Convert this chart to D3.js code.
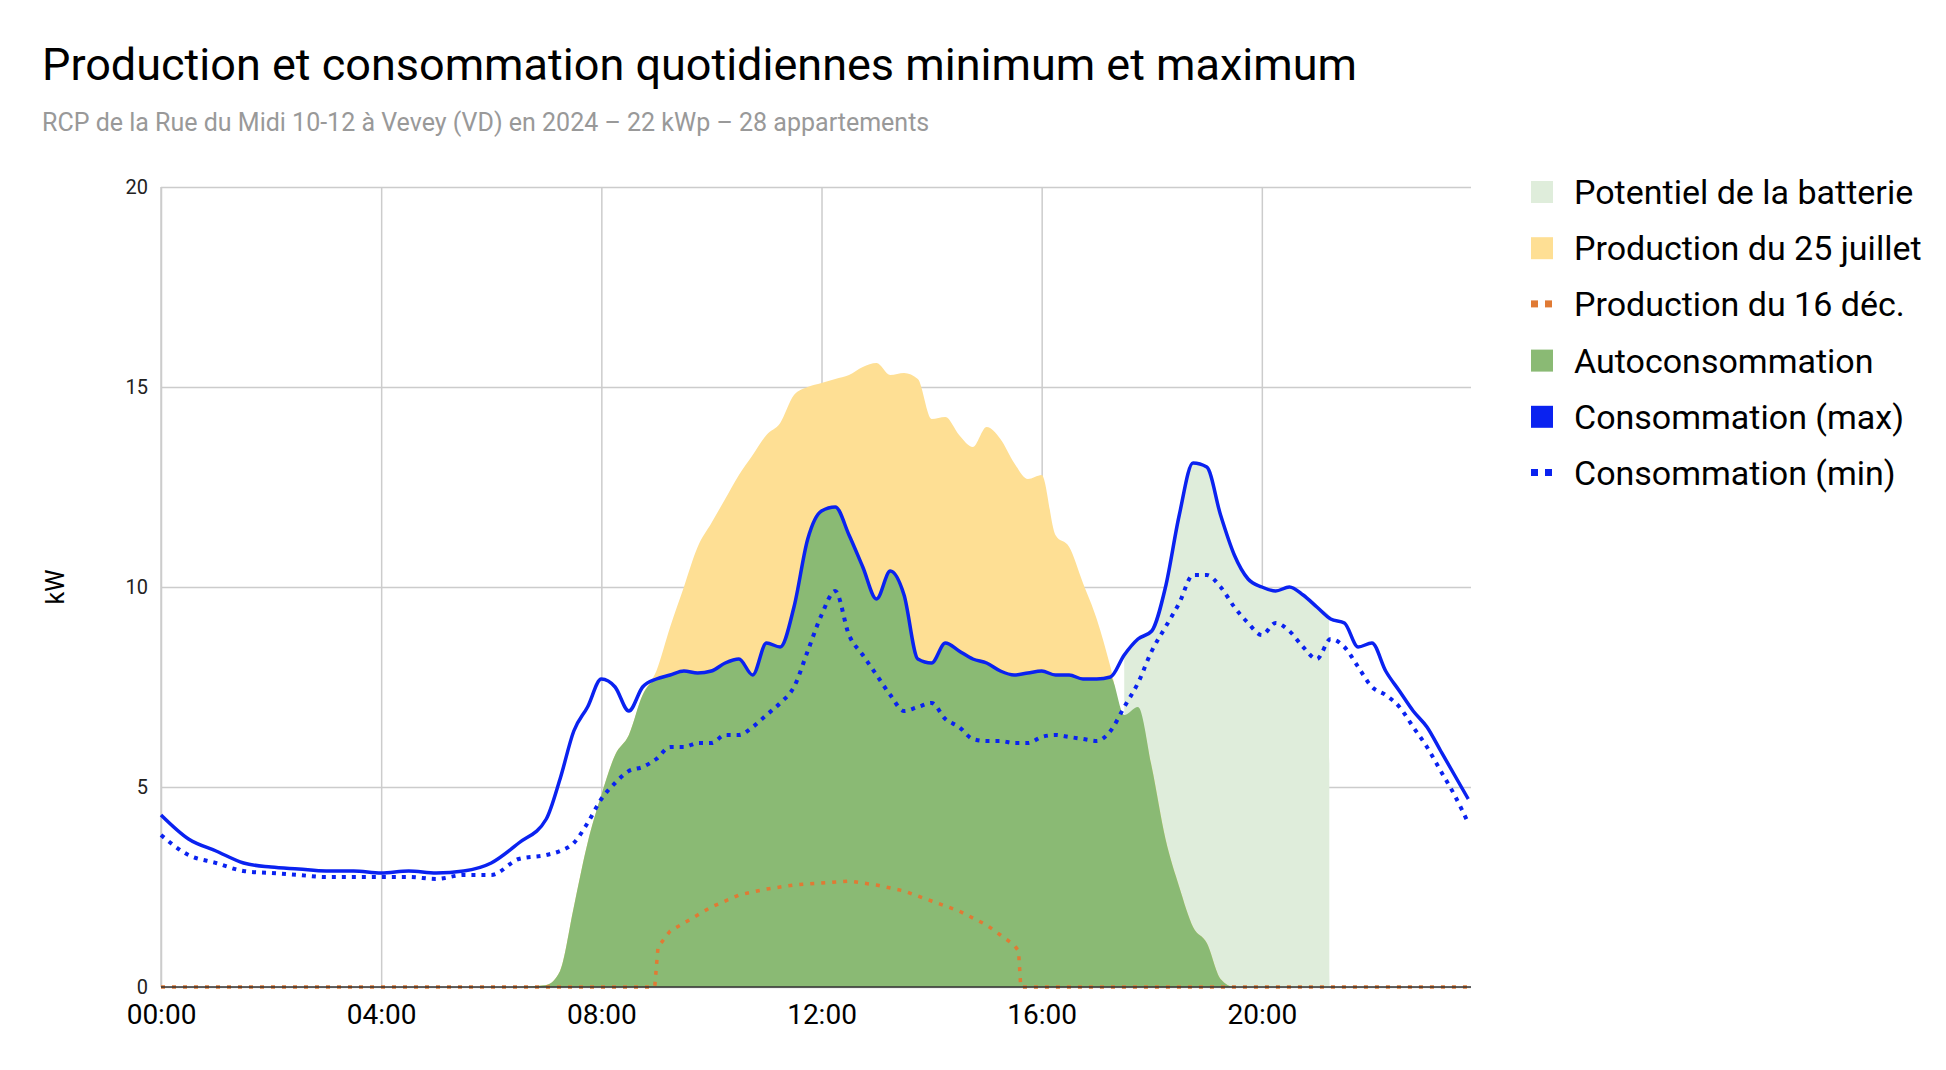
<!DOCTYPE html>
<html>
<head>
<meta charset="utf-8">
<script src="https://cdn.jsdelivr.net/npm/d3@7"></script>
<style>
  body { margin: 0; background: #fff; font-family: Roboto, "Noto Sans", sans-serif; }
</style>
</head>
<body>
<script>
// time grid: half hours until 6:30, then quarter hours
const hours = d3.range(0, 7, 0.5).concat(d3.range(7, 24, 0.25));

const consMax = [4.3,3.7,3.4,3.1,3.0,2.95,2.9,2.9,2.85,2.9,2.85,2.9,3.1,3.6,
  4.2,5.2,6.4,7.0, 7.7,7.5,6.9,7.5, 7.7,7.8,7.9,7.85, 7.9,8.1,8.2,7.8,
  8.6,8.5,9.5,11.2, 11.9,12.0,11.3,10.5, 9.7,10.4,9.8,8.2, 8.1,8.6,8.4,8.2,
  8.1,7.9,7.8,7.85, 7.9,7.8,7.8,7.7, 7.7,7.75,8.3,8.7, 8.9,10.0,11.8,13.1,
  13.0,11.8,10.8,10.2, 10.0,9.9,10.0,9.8, 9.5,9.2,9.1,8.5, 8.6,7.9,7.4,6.9,
  6.5,5.9,5.3,4.7];

const consMin = [3.8,3.3,3.1,2.9,2.85,2.8,2.75,2.75,2.75,2.75,2.7,2.8,2.8,3.2,
  3.3,3.4,3.6,4.1, 4.7,5.1,5.4,5.5, 5.7,6.0,6.0,6.1, 6.1,6.3,6.3,6.5,
  6.8,7.1,7.5,8.4, 9.3,9.9,8.8,8.3, 7.8,7.3,6.9,7.0, 7.1,6.7,6.5,6.2,
  6.15,6.15,6.1,6.1, 6.25,6.3,6.25,6.2, 6.15,6.4,7.0,7.6, 8.4,9.0,9.6,10.3,
  10.3,10.0,9.5,9.1, 8.8,9.1,8.9,8.5, 8.2,8.7,8.5,8.0, 7.5,7.3,7.0,6.5,
  6.0,5.4,4.8,4.1];

const prodJuly = [0,0,0,0,0,0,0,0,0,0,0,0,0,0,
  0.05,0.4,2.0,3.6, 4.8,5.8,6.3,7.3, 7.9,9.0,10.0,11.0, 11.6,12.2,12.8,13.3,
  13.8,14.1,14.8,15.0, 15.1,15.2,15.3,15.5, 15.6,15.3,15.35,15.2, 14.2,14.25,13.8,13.5,
  14.0,13.7,13.1,12.7, 12.8,11.3,11.0,10.1, 9.2,8.0,6.6,6.9, 5.5,3.7,2.5,1.5,
  1.1,0.2,0,0, 0,0,0,0, 0,0,0,0, 0,0,0,0, 0,0,0,0];

const autoCons = [0,0,0,0,0,0,0,0,0,0,0,0,0,0,
  0.05,0.4,2.0,3.6, 4.8,5.8,6.3,7.3, 7.7,7.8,7.9,7.85, 7.9,8.1,8.2,7.8,
  8.6,8.5,9.5,11.2, 11.9,12.0,11.3,10.5, 9.7,10.4,9.8,8.2, 8.1,8.6,8.4,8.2,
  8.1,7.9,7.8,7.85, 7.9,7.8,7.8,7.7, 7.7,7.75,6.8,7.0, 5.5,3.7,2.5,1.5,
  1.1,0.2,0,0, 0,0,0,0, 0,0,0,0, 0,0,0,0, 0,0,0,0];

const batteryHours = [17.5,17.75,18,18.25,18.5,18.75,19,19.25,19.5,19.75,20,20.25,20.5,20.75,21,21.22,21.23];
const batteryKw = [8.3,8.7,8.9,10.0,11.8,13.1,13.0,11.8,10.8,10.2,10.0,9.9,10.0,9.8,9.5,9.3,0];

const decHours = [0,8.97,9.03,9.25,9.5,9.75,10,10.5,11,11.5,12,12.5,13,13.5,14,14.5,15,15.25,15.5,15.58,15.62,23.75];
const decKw = [0,0,1.0,1.4,1.6,1.8,2.0,2.3,2.45,2.55,2.6,2.65,2.55,2.4,2.15,1.9,1.55,1.3,1.05,0.9,0,0];

const yTicks = [0, 5, 10, 15, 20];
const xTicks = [0, 4, 8, 12, 16, 20];
const legendItems = [
  { label: "Potentiel de la batterie", color: "#dfeddb" },
  { label: "Production du 25 juillet", color: "#fedf94" },
  { label: "Production du 16 déc.", color: "#e07a34", dotted: true },
  { label: "Autoconsommation", color: "#8aba74" },
  { label: "Consommation (max)", color: "#0a22f0" },
  { label: "Consommation (min)", color: "#0a22f0", dotted: true }
];

const width = 1946, height = 1070;
const margin = { left: 161, right: 475, top: 187, bottom: 83 };

const svg = d3.select("body").append("svg")
  .attr("width", width).attr("height", height);

svg.append("text").attr("x", 42).attr("y", 80)
  .attr("font-size", 45).attr("fill", "#000")
  .text("Production et consommation quotidiennes minimum et maximum");
svg.append("text").attr("x", 42).attr("y", 131)
  .attr("font-size", 25).attr("fill", "#999")
  .text("RCP de la Rue du Midi 10-12 à Vevey (VD) en 2024 – 22 kWp – 28 appartements");

const x = d3.scaleLinear().domain([0, 23.8]).range([margin.left, width - margin.right]);
const y = d3.scaleLinear().domain([0, 20]).range([height - margin.bottom, margin.top]);

// grid
svg.append("g")
  .attr("transform", `translate(0,${margin.top})`)
  .call(d3.axisBottom(x).tickValues(xTicks).tickSize(y(0) - margin.top).tickFormat(""))
  .call(g => g.select(".domain").remove())
  .call(g => g.selectAll("line").attr("stroke", "#ccc").attr("stroke-width", 1.5));
svg.append("g")
  .attr("transform", `translate(${margin.left},0)`)
  .call(d3.axisRight(y).tickValues(yTicks).tickSize(x.range()[1] - margin.left).tickFormat(""))
  .call(g => g.select(".domain").remove())
  .call(g => g.selectAll("line").attr("stroke", "#ccc").attr("stroke-width", 1.5));
svg.append("line").attr("x1", margin.left).attr("x2", margin.left)
  .attr("y1", margin.top).attr("y2", y(0)).attr("stroke", "#ccc").attr("stroke-width", 1.5);

const area = d3.area().x(d => x(d[0])).y0(y(0)).y1(d => y(d[1])).curve(d3.curveMonotoneX);
const line = d3.line().x(d => x(d[0])).y(d => y(d[1])).curve(d3.curveMonotoneX);
const zipH = arr => hours.map((h, i) => [h, arr[i]]);

svg.append("path").datum(batteryHours.map((h, i) => [h, batteryKw[i]]))
  .attr("d", area).attr("fill", "#dfeddb");
svg.append("path").datum(zipH(prodJuly)).attr("d", area).attr("fill", "#fedf94");
svg.append("path").datum(zipH(autoCons)).attr("d", area).attr("fill", "#8aba74");

svg.append("path").datum(decHours.map((h, i) => [h, decKw[i]]))
  .attr("d", d3.line().x(d => x(d[0])).y(d => y(d[1])))
  .attr("fill", "none").attr("stroke", "#e07a34").attr("stroke-width", 3.5)
  .attr("stroke-dasharray", "4,7");
svg.append("path").datum(zipH(consMin)).attr("d", line)
  .attr("fill", "none").attr("stroke", "#0a22f0").attr("stroke-width", 4)
  .attr("stroke-dasharray", "4,6");
svg.append("path").datum(zipH(consMax)).attr("d", line)
  .attr("fill", "none").attr("stroke", "#0a22f0").attr("stroke-width", 3.5);

// baseline
svg.append("line").attr("x1", margin.left).attr("x2", x.range()[1])
  .attr("y1", y(0)).attr("y2", y(0)).attr("stroke", "#333").attr("stroke-width", 1.5);

// axes labels
svg.append("g")
  .attr("transform", `translate(${margin.left - 10},0)`)
  .call(d3.axisLeft(y).tickValues(yTicks).tickSize(0))
  .call(g => g.select(".domain").remove())
  .call(g => g.selectAll("text").attr("font-size", 20).attr("font-family", "Roboto").attr("fill", "#222"));
svg.append("g")
  .attr("transform", `translate(0,${y(0) + 14})`)
  .call(d3.axisBottom(x).tickValues(xTicks).tickSize(0)
    .tickFormat(d => String(d).padStart(2, "0") + ":00"))
  .call(g => g.select(".domain").remove())
  .call(g => g.selectAll("text").attr("font-size", 28).attr("font-family", "Roboto").attr("fill", "#000"));

svg.append("text")
  .attr("transform", `translate(64,${(margin.top + y(0)) / 2}) rotate(-90)`)
  .attr("text-anchor", "middle").attr("font-size", 25).text("kW");

// legend
const leg = svg.append("g").attr("transform", "translate(1531,192)");
legendItems.forEach((d, i) => {
  const g = leg.append("g").attr("transform", `translate(0,${i * 56.2})`);
  if (d.dotted) {
    [0, 14].forEach(dx => g.append("rect").attr("x", dx).attr("y", -4).attr("width", 7).attr("height", 7).attr("fill", d.color));
  } else {
    g.append("rect").attr("x", 0).attr("y", -11).attr("width", 22).attr("height", 22).attr("fill", d.color);
  }
  g.append("text").attr("x", 43).attr("y", 12).attr("font-size", 34).text(d.label);
});
</script>
</body>
</html>
